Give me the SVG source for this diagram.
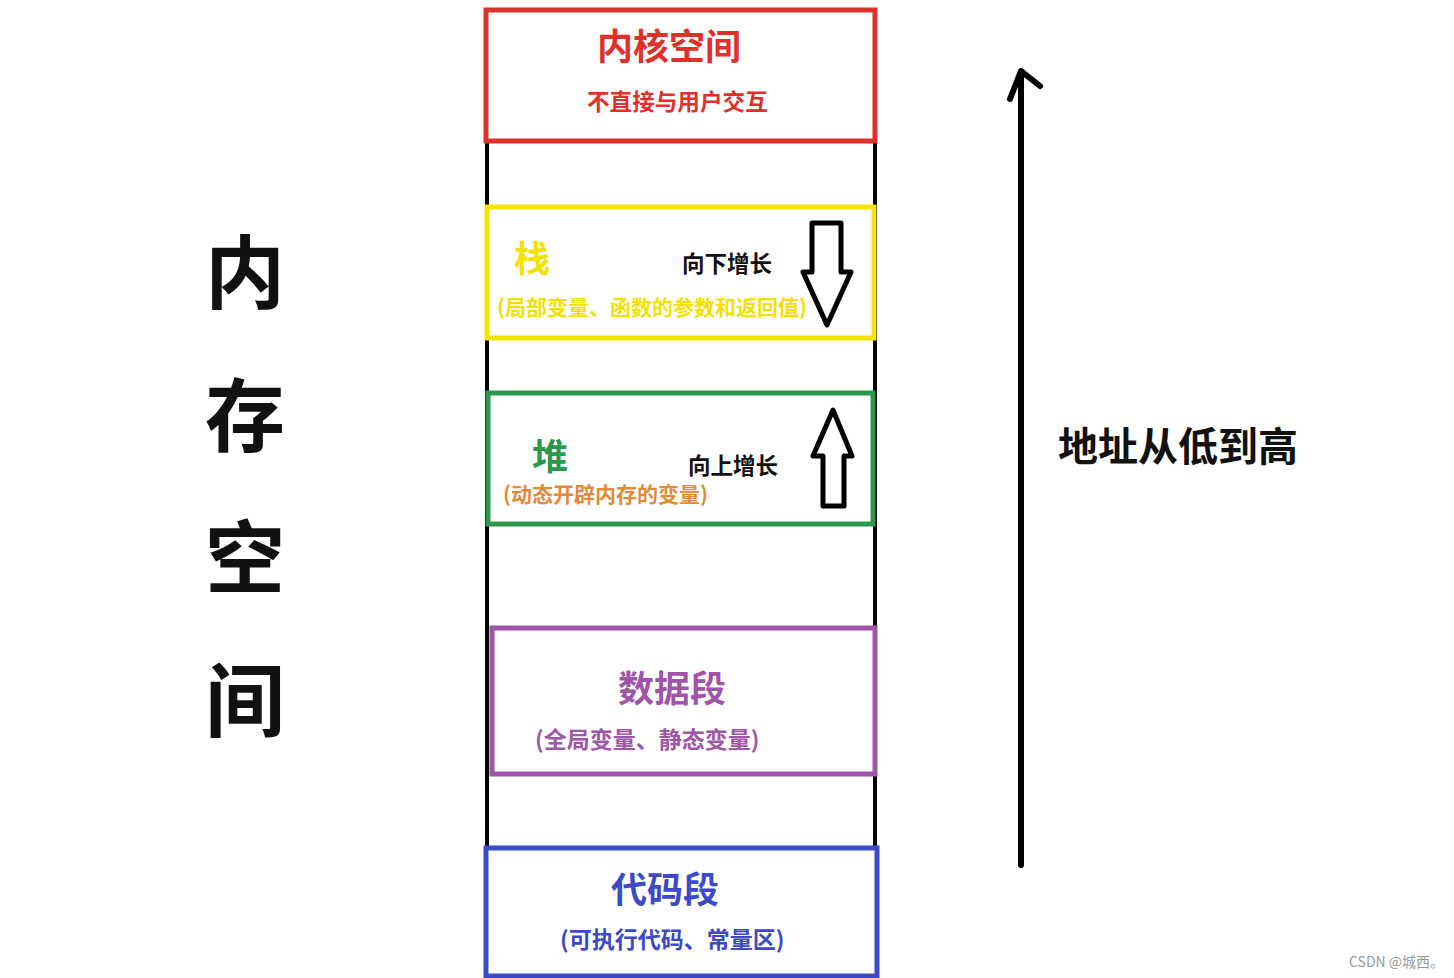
<svg xmlns="http://www.w3.org/2000/svg" width="1454" height="978" viewBox="0 0 1454 978">
<style>
text{font-family:"Noto Sans CJK SC","Noto Sans",sans-serif;font-weight:bold}
.box{fill:none;stroke-width:5}
.t{font-size:36px;text-anchor:middle}
.s{font-size:22.5px}
.k{fill:#111}
</style>
<rect width="1454" height="978" fill="#fff"/>
<g id="frame" stroke="#000" stroke-width="4">
<line x1="487" y1="140" x2="487" y2="850"/>
<line x1="875" y1="140" x2="875" y2="850"/>
</g>
<g id="kernel">
<rect class="box" x="486" y="10" width="389" height="131" stroke="#e0302a"/>
<text class="t" x="669" y="60" fill="#e0302a">内核空间</text>
<text x="587" y="110" fill="#e0302a" font-size="22.6">不直接与用户交互</text>
</g>
<g id="stack">
<rect class="box" x="487" y="207" width="387" height="131" stroke="#f5e400"/>
<text class="t" x="532" y="272" fill="#f5e100">栈</text>
<text class="s k" x="682" y="272">向下增长</text>
<text x="497" y="315" fill="#f5e100" font-size="21">(局部变量、函数的参数和返回值)</text>
<path d="M812 223 H841 V272 H851 L827 325 L803 272 H812 Z" fill="#fff" stroke="#000" stroke-width="5" stroke-linejoin="round"/>
</g>
<g id="heap">
<rect class="box" x="488" y="393" width="385" height="131" stroke="#2a9a4a"/>
<text class="t" x="550" y="470" fill="#2a9a4a">堆</text>
<text class="s k" x="688" y="474">向上增长</text>
<text x="503" y="502" fill="#e08a3a" font-size="21">(动态开辟内存的变量)</text>
<path d="M823 506 H844 V456 H852 L833 410 L813 456 H823 Z" fill="#fff" stroke="#000" stroke-width="5" stroke-linejoin="round"/>
</g>
<g id="data">
<rect class="box" x="492" y="628" width="383" height="146" stroke="#a055a8"/>
<text class="t" x="672" y="702" fill="#a055a8">数据段</text>
<text x="535" y="748" fill="#a055a8" font-size="23">(全局变量、静态变量)</text>
</g>
<g id="code">
<rect class="box" x="486" y="848" width="391" height="128" stroke="#3c4ac8"/>
<text class="t" x="665" y="903" fill="#3c4ac8">代码段</text>
<text x="560" y="948" fill="#3c4ac8" font-size="23">(可执行代码、常量区)</text>
</g>
<g id="memory-label" font-size="80" class="k">
<text x="245" y="302" text-anchor="middle">内</text>
<text x="245" y="445" text-anchor="middle">存</text>
<text x="245" y="587" text-anchor="middle">空</text>
<text x="245" y="730" text-anchor="middle">间</text>
</g>
<g id="connectors" stroke="#000" stroke-width="6" fill="none" stroke-linecap="round" stroke-linejoin="round">
<line x1="1021" y1="865" x2="1021" y2="72"/>
<polyline points="1010,99 1021,71 1040,86"/>
</g>
<g id="address-label">
<text x="1058" y="461" font-size="40" class="k">地址从低到高</text>
</g>
<text x="1349" y="967" font-size="14" fill="#999" style="font-weight:normal">CSDN @城西。</text>
</svg>
